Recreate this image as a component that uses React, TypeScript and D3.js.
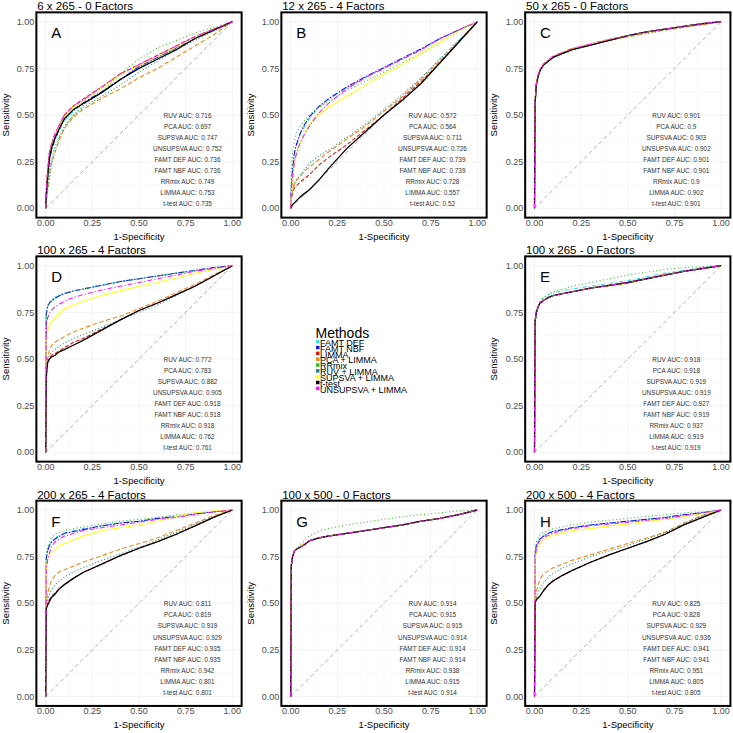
import React from 'react';
import * as d3 from 'd3';

// false positive rate grid shared by every curve
const fprGrid = [0, 0.003, 0.01, 0.02, 0.03, 0.05, 0.075, 0.1, 0.15, 0.2, 0.3, 0.4, 0.5, 0.6, 0.7, 0.8, 0.9, 1];

const methods = ['FAMT DEF', 'FAMT NBF', 'LIMMA', 'PCA + LIMMA', 'RRmix', 'RUV + LIMMA', 'SUPSVA + LIMMA', 't-test', 'UNSUPSVA + LIMMA'];
const methodColors = ['#3FE0F0', '#1818E8', '#E01818', '#F08A18', '#30C020', '#198A8A', '#FFFF20', '#000000', '#FF18FF'];
const methodDash = ['4,2,1,2', '6,1.5,1.5,1.5', '4,2', '4.5,2.5', '1,2.6', '1,2.2', null, null, '5,2,1.2,2'];

const aucNames = ['RUV', 'PCA', 'SUPSVA', 'UNSUPSVA', 'FAMT DEF', 'FAMT NBF', 'RRmix', 'LIMMA', 't-test'];

const panelTitles = ['6 x 265 - 0 Factors', '12 x 265 - 4 Factors', '50 x 265 - 0 Factors', '100 x 265 - 4 Factors',
  '100 x 265 - 0 Factors', '200 x 265 - 4 Factors', '100 x 500 - 0 Factors', '200 x 500 - 4 Factors'];
const panelLetters = ['A', 'B', 'C', 'D', 'E', 'F', 'G', 'H'];

const aucA = ['0.716', '0.697', '0.747', '0.752', '0.736', '0.736', '0.749', '0.753', '0.735'];
const aucB = ['0.572', '0.564', '0.711', '0.726', '0.739', '0.739', '0.728', '0.557', '0.52'];
const aucC = ['0.901', '0.9', '0.903', '0.902', '0.901', '0.901', '0.9', '0.902', '0.901'];
const aucD = ['0.772', '0.783', '0.882', '0.905', '0.918', '0.918', '0.918', '0.762', '0.761'];
const aucE = ['0.918', '0.918', '0.919', '0.919', '0.927', '0.919', '0.937', '0.919', '0.919'];
const aucF = ['0.811', '0.819', '0.919', '0.929', '0.935', '0.935', '0.942', '0.801', '0.801'];
const aucG = ['0.914', '0.915', '0.915', '0.914', '0.914', '0.914', '0.938', '0.915', '0.914'];
const aucH = ['0.825', '0.828', '0.929', '0.936', '0.941', '0.941', '0.951', '0.805', '0.805'];

// sensitivity per method (same order as methods), read at fprGrid
const tprA = [
  [0, .06, .15, .25, .3, .37, .42, .47, .52, .56, .62, .69, .76, .81, .86, .91, .955, 1],
  [0, .06, .16, .26, .31, .37, .43, .48, .53, .565, .625, .69, .76, .81, .86, .91, .955, 1],
  [0, .09, .2, .3, .34, .4, .45, .5, .55, .585, .65, .72, .77, .82, .87, .92, .96, 1],
  [0, .04, .1, .18, .24, .3, .37, .43, .49, .53, .59, .64, .7, .75, .81, .87, .93, 1],
  [0, .03, .08, .15, .22, .31, .38, .43, .5, .55, .62, .72, .8, .86, .9, .94, .97, 1],
  [0, .04, .11, .2, .26, .33, .39, .44, .5, .54, .6, .66, .73, .79, .85, .9, .95, 1],
  [0, .07, .18, .28, .33, .39, .44, .49, .54, .575, .645, .715, .765, .815, .865, .915, .955, 1],
  [0, .07, .17, .27, .32, .38, .43, .48, .53, .56, .62, .69, .75, .8, .85, .91, .955, 1],
  [0, .08, .2, .3, .34, .4, .45, .5, .55, .58, .65, .72, .77, .82, .87, .92, .96, 1],
];
const tprB = [
  [0, .1, .2, .29, .33, .39, .44, .48, .54, .58, .645, .7, .75, .8, .85, .91, .955, 1],
  [0, .11, .21, .3, .34, .4, .45, .49, .545, .585, .65, .705, .755, .805, .855, .91, .955, 1],
  [0, .04, .08, .11, .12, .14, .16, .18, .23, .27, .34, .42, .5, .59, .68, .78, .89, 1],
  [0, .05, .1, .13, .15, .17, .2, .22, .26, .3, .37, .44, .52, .6, .69, .79, .89, 1],
  [0, .2, .3, .36, .4, .44, .47, .5, .54, .57, .63, .68, .73, .78, .83, .89, .95, 1],
  [0, .05, .1, .13, .15, .18, .21, .24, .28, .31, .38, .45, .53, .61, .7, .8, .9, 1],
  [0, .06, .15, .24, .29, .35, .4, .45, .5, .54, .6, .66, .72, .77, .83, .89, .95, 1],
  [0, .01, .02, .03, .04, .06, .08, .1, .15, .21, .32, .41, .5, .58, .67, .78, .89, 1],
  [0, .08, .17, .25, .29, .35, .4, .44, .51, .56, .64, .7, .75, .8, .85, .91, .955, 1],
];
const tprC = [
  [0, .56, .66, .71, .74, .77, .79, .81, .83, .85, .875, .9, .925, .945, .96, .975, .99, 1],
  [0, .56, .66, .71, .74, .77, .79, .81, .83, .85, .875, .9, .925, .945, .96, .975, .99, 1],
  [0, .56, .67, .715, .745, .775, .795, .815, .835, .855, .88, .905, .925, .945, .96, .975, .985, 1],
  [0, .55, .66, .71, .74, .77, .79, .81, .83, .85, .875, .9, .92, .94, .955, .97, .985, 1],
  [0, .55, .67, .72, .75, .775, .79, .805, .825, .845, .875, .9, .92, .935, .955, .97, .985, 1],
  [0, .56, .66, .71, .74, .77, .79, .805, .83, .85, .875, .9, .925, .945, .96, .975, .99, 1],
  [0, .57, .67, .72, .75, .775, .795, .815, .835, .855, .88, .905, .925, .945, .96, .975, .99, 1],
  [0, .56, .665, .71, .74, .77, .79, .81, .83, .85, .875, .9, .925, .945, .96, .975, .99, 1],
  [0, .57, .67, .715, .745, .775, .795, .815, .835, .855, .88, .905, .925, .945, .96, .975, .99, 1],
];
const tprD = [
  [0, .74, .78, .8, .81, .83, .84, .85, .865, .875, .895, .915, .93, .945, .96, .975, .99, 1],
  [0, .74, .78, .8, .81, .825, .84, .85, .865, .875, .895, .915, .93, .945, .96, .975, .99, 1],
  [0, .42, .48, .5, .52, .53, .545, .56, .59, .61, .66, .71, .76, .8, .845, .89, .945, 1],
  [0, .45, .5, .55, .57, .59, .605, .62, .645, .665, .7, .73, .77, .81, .855, .9, .95, 1],
  [0, .74, .79, .805, .815, .83, .845, .855, .865, .875, .895, .915, .93, .945, .96, .975, .99, 1],
  [0, .45, .5, .52, .535, .55, .57, .585, .61, .63, .67, .71, .75, .79, .84, .89, .945, 1],
  [0, .6, .65, .68, .7, .72, .745, .77, .79, .81, .84, .865, .89, .91, .935, .96, .98, 1],
  [0, .4, .48, .5, .51, .52, .54, .55, .575, .6, .655, .71, .76, .8, .845, .89, .945, 1],
  [0, .68, .72, .745, .76, .78, .795, .81, .83, .845, .87, .89, .91, .93, .95, .97, .985, 1],
];
const tprE = [
  [0, .7, .76, .79, .81, .83, .845, .855, .865, .875, .89, .905, .92, .94, .96, .975, .99, 1],
  [0, .7, .75, .78, .8, .815, .83, .84, .85, .86, .88, .895, .91, .93, .95, .97, .985, 1],
  [0, .7, .75, .78, .8, .815, .83, .84, .85, .86, .88, .895, .91, .93, .95, .97, .985, 1],
  [0, .7, .75, .78, .8, .815, .83, .84, .85, .86, .88, .89, .905, .93, .955, .97, .985, 1],
  [0, .7, .76, .79, .81, .83, .85, .86, .875, .89, .91, .93, .95, .965, .98, .99, .995, 1],
  [0, .7, .75, .78, .8, .815, .83, .84, .85, .86, .88, .895, .91, .93, .95, .97, .985, 1],
  [0, .7, .75, .78, .8, .815, .83, .84, .85, .86, .88, .895, .91, .93, .95, .97, .985, 1],
  [0, .7, .75, .78, .8, .815, .83, .84, .85, .86, .88, .895, .91, .93, .95, .97, .985, 1],
  [0, .7, .75, .78, .8, .815, .83, .84, .85, .86, .88, .895, .91, .93, .95, .97, .985, 1],
];
const tprF = [
  [0, .74, .78, .81, .83, .85, .865, .875, .89, .9, .915, .93, .94, .955, .965, .98, .99, 1],
  [0, .74, .78, .81, .825, .845, .86, .875, .885, .895, .915, .93, .94, .955, .965, .98, .99, 1],
  [0, .47, .5, .52, .535, .555, .58, .6, .635, .665, .71, .755, .795, .83, .87, .915, .96, 1],
  [0, .5, .55, .59, .62, .65, .67, .68, .7, .72, .755, .79, .82, .85, .89, .93, .97, 1],
  [0, .76, .8, .83, .85, .87, .88, .89, .9, .91, .925, .94, .95, .96, .975, .985, .99, 1],
  [0, .48, .52, .55, .57, .6, .62, .64, .67, .69, .73, .765, .8, .84, .88, .925, .965, 1],
  [0, .68, .74, .76, .77, .79, .81, .82, .84, .86, .89, .905, .92, .94, .965, .985, .995, 1],
  [0, .47, .49, .51, .53, .55, .58, .6, .635, .665, .71, .755, .795, .83, .87, .915, .96, 1],
  [0, .68, .73, .77, .8, .83, .845, .86, .875, .89, .905, .92, .935, .95, .96, .975, .99, 1],
];
const tprG = [
  [0, .7, .75, .78, .79, .8, .815, .835, .85, .86, .875, .89, .905, .92, .94, .955, .975, 1],
  [0, .7, .75, .78, .79, .8, .815, .835, .85, .86, .875, .89, .905, .92, .94, .955, .975, 1],
  [0, .7, .75, .78, .79, .805, .82, .835, .85, .86, .875, .89, .905, .92, .94, .955, .975, 1],
  [0, .7, .75, .78, .79, .805, .82, .835, .85, .86, .875, .89, .905, .92, .94, .955, .975, 1],
  [0, .7, .75, .78, .79, .815, .84, .86, .885, .9, .92, .935, .95, .965, .975, .985, .995, 1],
  [0, .7, .75, .78, .79, .8, .815, .835, .85, .86, .875, .89, .905, .92, .94, .955, .975, 1],
  [0, .7, .75, .78, .79, .805, .82, .835, .85, .86, .875, .89, .905, .92, .94, .955, .975, 1],
  [0, .7, .75, .78, .79, .8, .815, .835, .85, .86, .875, .89, .905, .92, .94, .955, .975, 1],
  [0, .7, .75, .78, .79, .8, .815, .835, .85, .86, .875, .89, .905, .92, .94, .955, .975, 1],
];
const tprH = [
  [0, .77, .81, .83, .85, .865, .875, .885, .895, .905, .92, .93, .94, .95, .96, .975, .985, 1],
  [0, .77, .81, .83, .845, .86, .875, .885, .895, .905, .92, .93, .94, .95, .96, .975, .985, 1],
  [0, .5, .52, .53, .54, .57, .6, .62, .65, .675, .72, .76, .795, .83, .87, .92, .96, 1],
  [0, .52, .56, .6, .63, .66, .675, .69, .71, .73, .76, .79, .82, .85, .88, .93, .97, 1],
  [0, .78, .83, .85, .87, .88, .89, .9, .91, .92, .935, .945, .955, .965, .975, .985, .99, 1],
  [0, .5, .53, .56, .58, .61, .64, .66, .69, .71, .75, .78, .81, .845, .88, .925, .97, 1],
  [0, .74, .77, .8, .82, .84, .855, .865, .88, .89, .9, .915, .925, .94, .95, .965, .98, 1],
  [0, .5, .52, .53, .54, .57, .6, .62, .65, .675, .72, .76, .795, .83, .87, .92, .96, 1],
  [0, .75, .79, .82, .84, .855, .865, .875, .89, .9, .915, .925, .935, .945, .955, .97, .985, 1],
];

const panelTpr = [tprA, tprB, tprC, tprD, tprE, tprF, tprG, tprH];
const panelAuc = [aucA, aucB, aucC, aucD, aucE, aucF, aucG, aucH];
const panelCells = [[0, 0], [1, 0], [2, 0], [0, 1], [2, 1], [0, 2], [1, 2], [2, 2]];

const FONT = '"Liberation Sans", Arial, Helvetica, sans-serif';
const SIZE = 186.6;
const colX = [45.7, 290.7, 534.5];
const rowY = [21.7, 265.7, 510];
const ticks = [0, 0.25, 0.5, 0.75, 1];
const minorTicks = [0.125, 0.375, 0.625, 0.875];

const Panel = ({ idx }: { idx: number }) => {
  const [c, r] = panelCells[idx];
  const x0 = colX[c];
  const y1 = rowY[r];
  const x = d3.scaleLinear().domain([-0.05, 1.05]).range([x0 - SIZE * 0.05, x0 + SIZE * 1.05]);
  const y = d3.scaleLinear().domain([-0.05, 1.05]).range([y1 + SIZE * 1.05, y1 - SIZE * 0.05]);
  const line = d3.line<number>().x((_, i) => x(fprGrid[i])).y(d => y(d));
  const left = x(-0.05), right = x(1.05), top = y(1.05), bottom = y(-0.05);
  const tpr = panelTpr[idx];
  const auc = panelAuc[idx];

  return (
    <g>
      <rect x={left} y={top} width={right - left} height={bottom - top} fill="#fff" />
      {minorTicks.map(t => (
        <g key={'m' + t} stroke="#F3F3F3" strokeWidth={0.4}>
          <line x1={x(t)} x2={x(t)} y1={top} y2={bottom} />
          <line x1={left} x2={right} y1={y(t)} y2={y(t)} />
        </g>
      ))}
      {ticks.map(t => (
        <g key={'M' + t} stroke="#EBEBEB" strokeWidth={0.6}>
          <line x1={x(t)} x2={x(t)} y1={top} y2={bottom} />
          <line x1={left} x2={right} y1={y(t)} y2={y(t)} />
        </g>
      ))}
      <line x1={x(0)} y1={y(0)} x2={x(1)} y2={y(1)} stroke="#A8A8A8" strokeWidth={0.9} strokeDasharray="4,3" />
      {tpr.map((vals, m) => (
        <path key={m} d={line(vals) || ''} fill="none" stroke={methodColors[m]}
          strokeWidth={m === 7 ? 1.3 : 1.1} strokeDasharray={methodDash[m] || undefined} />
      ))}
      <rect x={left} y={top} width={right - left} height={bottom - top} fill="none" stroke="#000" strokeWidth={2} />
      <text x={x(0.03)} y={y(0.91)} fontSize={15} fontFamily={FONT} fill="#000">{panelLetters[idx]}</text>
      {aucNames.map((n, i) => (
        <text key={n} x={x(0.76)} y={y(0.495 - i * 0.059)} dy="0.35em" textAnchor="middle"
          fontSize={6.4} fontFamily={FONT} fill="#333">{`${n} AUC: ${auc[i]}`}</text>
      ))}
      {ticks.map(t => (
        <text key={'x' + t} x={x(t)} y={bottom + 8} textAnchor="middle" fontSize={9} fontFamily={FONT} fill="#4D4D4D">
          {d3.format('.2f')(t)}
        </text>
      ))}
      {ticks.map(t => (
        <text key={'y' + t} x={left - 2} y={y(t)} dy="0.35em" textAnchor="end" fontSize={9} fontFamily={FONT} fill="#4D4D4D">
          {d3.format('.2f')(t)}
        </text>
      ))}
      <text x={(x(0) + x(1)) / 2} y={y(0) + 31.7} textAnchor="middle" fontSize={9.5} fontFamily={FONT} fill="#000">1-Specificity</text>
      <text transform={`translate(${x0 - 37.2},${(y(0) + y(1)) / 2}) rotate(-90)`} textAnchor="middle"
        fontSize={9.5} fontFamily={FONT} fill="#000">Sensitivity</text>
      <text x={x0 - 8.5} y={y1 - 11.5} fontSize={11.5} fontFamily={FONT} fill="#000">{panelTitles[idx]}</text>
    </g>
  );
};

const Legend = () => (
  <g fontFamily={FONT}>
    <text x={315.5} y={338.3} fontSize={14} fill="#000">Methods</text>
    {methods.map((m, i) => (
      <g key={m}>
        <rect x={316} y={341.7 + i * 5.83 - 1.75} width={3.5} height={3.5} fill={methodColors[i]} />
        <text x={320} y={341.7 + i * 5.83 + 4.3} fontSize={9} fill="#000">{m}</text>
      </g>
    ))}
  </g>
);

export default function App() {
  return (
    <svg width={733} height={733} style={{ position: 'absolute', left: 0, top: 0, background: '#fff' }}>
      <rect width={733} height={733} fill="#fff" />
      {panelTitles.map((_, i) => <Panel key={i} idx={i} />)}
      <Legend />
    </svg>
  );
}
